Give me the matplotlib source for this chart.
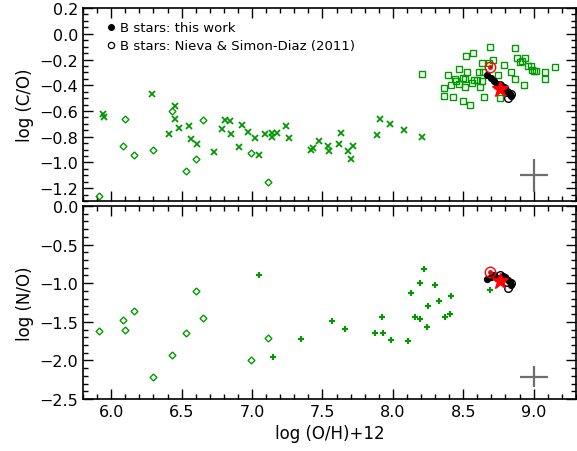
import numpy as np
import matplotlib.pyplot as plt
from matplotlib.ticker import MultipleLocator

plt.rcParams['font.family'] = 'DejaVu Sans'

green = '#009a00'

# HII regions / dwarf galaxies (crosses, C/O panel)
hii_oh = [5.94, 5.95, 6.29, 6.41, 6.455, 6.45, 6.48, 6.55, 6.57, 6.61, 6.73, 6.79,
          6.81, 6.84, 6.85, 6.91, 6.93, 6.97, 7.02, 7.05, 7.09, 7.14, 7.14, 7.18,
          7.24, 7.26, 7.42, 7.435, 7.475, 7.54, 7.55, 7.62, 7.63, 7.68, 7.70, 7.72,
          7.89, 7.91, 7.98, 8.08, 8.21]
hii_co = [-0.62, -0.65, -0.47, -0.78, -0.56, -0.66, -0.73, -0.72, -0.82, -0.86, -0.92, -0.74,
          -0.67, -0.68, -0.78, -0.88, -0.71, -0.76, -0.81, -0.94, -0.78, -0.80, -0.77, -0.77,
          -0.72, -0.81, -0.90, -0.89, -0.83, -0.87, -0.91, -0.86, -0.77, -0.91, -0.97, -0.87,
          -0.79, -0.66, -0.70, -0.75, -0.80]

# metal-poor halo stars (diamonds, both panels)
dia_oh = [5.915, 6.08, 6.10, 6.16, 6.30, 6.43, 6.53, 6.60, 6.65, 6.99, 7.11]
dia_co = [-1.26, -0.87, -0.66, -0.94, -0.90, -0.60, -1.07, -0.97, -0.67, -0.93, -1.15]
dia_no = [-1.62, -1.48, -1.60, -1.36, -2.22, -1.93, -1.64, -1.10, -1.45, -2.00, -1.71]

# disk stars (squares, C/O panel)
sq_oh = [8.21, 8.36, 8.36, 8.39, 8.41, 8.43, 8.445, 8.45, 8.47, 8.50, 8.50, 8.51,
         8.51, 8.52, 8.53, 8.55, 8.57, 8.58, 8.60, 8.62, 8.63, 8.61, 8.63, 8.65,
         8.64, 8.68, 8.69, 8.71, 8.75, 8.76, 8.79, 8.84, 8.87, 8.87, 8.885, 8.90,
         8.92, 8.93, 8.94, 8.96, 8.98, 8.99, 9.00, 9.02, 9.08, 9.08, 9.155, 8.47, 8.56]
sq_co = [-0.31, -0.42, -0.48, -0.32, -0.40, -0.49, -0.35, -0.37, -0.27, -0.52, -0.34, -0.35,
         -0.41, -0.17, -0.30, -0.55, -0.15, -0.36, -0.36, -0.41, -0.23, -0.30, -0.37, -0.49,
         -0.30, -0.23, -0.10, -0.20, -0.32, -0.50, -0.24, -0.30, -0.11, -0.35, -0.19, -0.22,
         -0.21, -0.40, -0.19, -0.25, -0.25, -0.28, -0.29, -0.29, -0.30, -0.35, -0.26, -0.39, -0.38]

# HII regions (plus signs, N/O panel)
pl_oh = [7.05, 7.15, 7.35, 7.57, 7.66, 7.87, 7.93, 7.92, 7.99, 8.11, 8.13, 8.155,
         8.19, 8.19, 8.22, 8.24, 8.25, 8.30, 8.33, 8.37, 8.405, 8.41, 8.69]
pl_no = [-0.90, -1.96, -1.72, -1.49, -1.59, -1.65, -1.64, -1.44, -1.74, -1.75, -1.13, -1.44,
         -1.00, -1.46, -0.81, -1.57, -1.30, -1.02, -1.23, -1.44, -1.40, -1.16, -1.09]

# B stars: this work
bw_oh = [8.67, 8.70, 8.72, 8.74, 8.76, 8.78, 8.80, 8.82, 8.83, 8.84]
bw_co = [-0.32, -0.34, -0.37, -0.39, -0.40, -0.41, -0.43, -0.45, -0.47, -0.48]
bw_no = [-0.95, -0.92, -0.90, -0.93, -0.94, -0.91, -0.92, -0.96, -0.99, -1.02]

# B stars: Nieva & Simon-Diaz (2011)
ns_oh = [8.76, 8.79, 8.82, 8.84, 8.81]
ns_co = [-0.40, -0.42, -0.50, -0.47, -0.45]
ns_no = [-0.89, -0.93, -1.06, -1.00, -0.98]

# cosmic abundance standard (star) and Sun
cas = (8.76, -0.43, -0.97)
sun = (8.69, -0.26, -0.86)

# typical error bars
err_top = (9.0, -1.10, 0.1, 0.13)
err_bot = (9.0, -2.21, 0.1, 0.14)

fig = plt.figure(figsize=(5.77, 4.52), dpi=100)
ax1 = fig.add_axes([0.144, 0.553, 0.854, 0.427])
ax2 = fig.add_axes([0.144, 0.115, 0.854, 0.427])


def style(ax, ymaj, ymin):
    ax.set_xlim(5.8, 9.3)
    ax.xaxis.set_major_locator(MultipleLocator(0.5))
    ax.xaxis.set_minor_locator(MultipleLocator(0.1))
    ax.yaxis.set_major_locator(MultipleLocator(ymaj))
    ax.yaxis.set_minor_locator(MultipleLocator(ymin))
    ax.tick_params(which='both', direction='in', top=True, right=True, labelsize=11.5, width=1)
    ax.tick_params(which='major', length=7)
    ax.tick_params(which='minor', length=3.5)
    for s in ax.spines.values():
        s.set_linewidth(1.2)


def stars(ax, yb, yn, yc, ys):
    ax.plot(ns_oh, yn, 'o', mfc='white', mec='black', ms=5.5, mew=1.0, zorder=4)
    ax.plot(bw_oh, yb, 'o', color='black', ms=4.2, zorder=5)
    ax.plot(cas[0], yc, '*', color='red', ms=12, mec='red', zorder=6)
    ax.plot(sun[0], ys, 'o', mfc='none', mec='red', ms=7.5, mew=1.0, zorder=6)
    ax.plot(sun[0], ys, 'o', color='red', ms=2.5, zorder=6)


def errcross(ax, e):
    x, y, dx, dy = e
    ax.errorbar(x, y, xerr=dx, yerr=dy, fmt='none', ecolor='#6e6e6e', elinewidth=1.6, capsize=0)


# C/O panel
ax1.plot(hii_oh, hii_co, 'x', color=green, ms=4.5, mew=1.3)
ax1.plot(dia_oh, dia_co, 'D', mfc='none', mec=green, ms=3.5, mew=1.0)
ax1.plot(sq_oh, sq_co, 's', mfc='none', mec=green, ms=5, mew=1.0)
stars(ax1, bw_co, ns_co, cas[1], sun[1])
errcross(ax1, err_top)
ax1.set_ylim(-1.3, 0.2)
style(ax1, 0.2, 0.05)
ax1.tick_params(labelbottom=False)
ax1.set_ylabel('log (C/O)', fontsize=12)

ax1.plot(6.0, 0.05, 'o', color='black', ms=4)
ax1.text(6.06, 0.05, 'B stars: this work', fontsize=9.5, va='center')
ax1.plot(6.0, -0.09, 'o', mfc='white', mec='black', ms=4.5, mew=0.9)
ax1.text(6.06, -0.09, 'B stars: Nieva & Simon-Diaz (2011)', fontsize=9.5, va='center')

# N/O panel
ax2.plot(dia_oh, dia_no, 'D', mfc='none', mec=green, ms=3.5, mew=1.0)
ax2.plot(pl_oh, pl_no, '+', color=green, ms=5, mew=1.5)
stars(ax2, bw_no, ns_no, cas[2], sun[2])
errcross(ax2, err_bot)
ax2.set_ylim(-2.5, 0.0)
style(ax2, 0.5, 0.1)
ax2.set_ylabel('log (N/O)', fontsize=12)
ax2.set_xlabel('log (O/H)+12', fontsize=12)

fig.savefig('out.png', dpi=100)
